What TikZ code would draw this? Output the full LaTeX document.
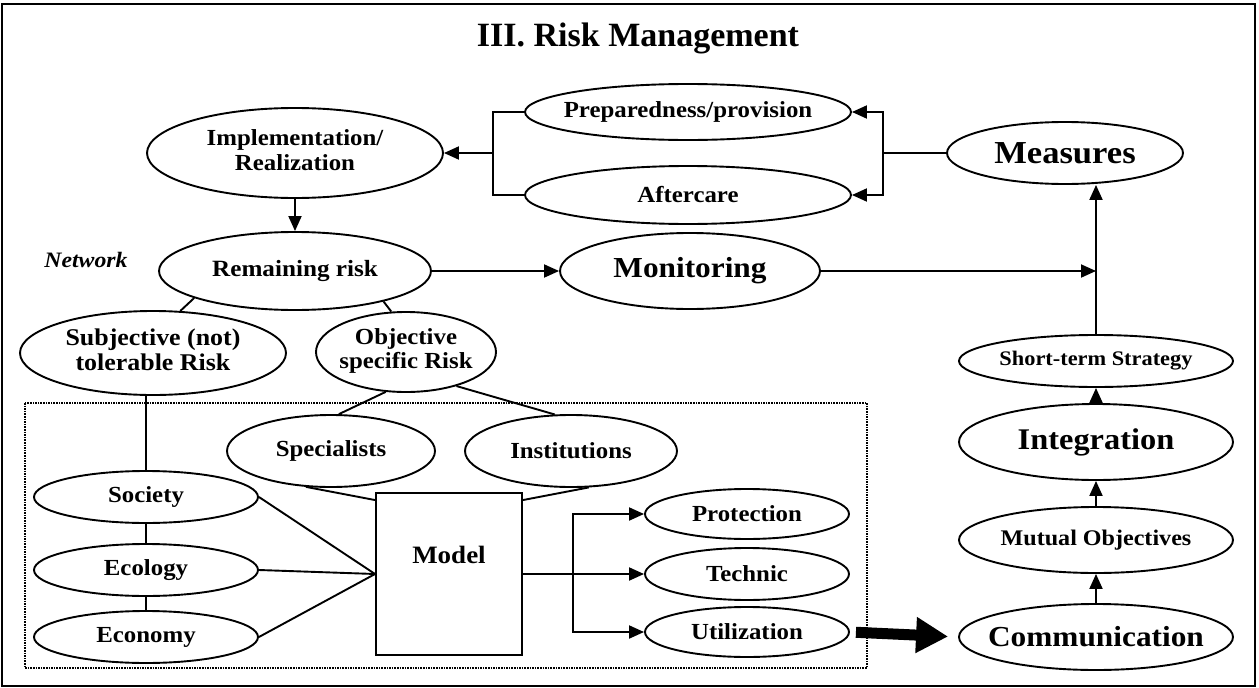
\documentclass[tikz,border=0pt]{standalone}
\usepackage{fontspec}
\setmainfont{Liberation Serif}
\newfontfamily\wide{Liberation Serif}[FakeStretch=1.08]
\usetikzlibrary{shapes.geometric,arrows.meta}
\newcommand\fsz[2]{\fontsize{#1}{#2}\selectfont}
\newcommand\zb[1]{\makebox[0pt]{#1}}
\newcommand\zt[2]{\makebox[0pt]{\begin{tabular}{@{}c@{}}#1\\#2\end{tabular}}}
\begin{document}
\begin{tikzpicture}[x=1pt,y=-1pt,
  ell/.style={draw,ellipse,line width=1.9pt,inner sep=0pt},
  sm/.style={font=\wide\bfseries\fsz{23}{24}},
  big/.style={font=\wide\bfseries\fsz{29}{31}},
  arr/.style={line width=1.9pt,-{Triangle[length=15pt,width=13pt]}},
  ln/.style={line width=1.9pt},
  thick arrow/.style={line width=11pt,-{Triangle[length=32pt,width=34pt]}},
]
\useasboundingbox (0,0) rectangle (1259,688);
\draw[line width=2.8pt] (2,4) rectangle (1255,686);
\draw[line width=1.6pt,densely dotted] (25,403) rectangle (867,668);

\node[font=\bfseries\fsz{34}{36}] (title) at (638,38) {III. Risk Management};

\node[ell,sm,minimum width=326pt,minimum height=56pt] (prep) at (688,112) {\zb{Preparedness/provision}};
\node[ell,sm,minimum width=326pt,minimum height=58pt] (after) at (688,195) {\zb{Aftercare}};
\node[ell,font=\wide\bfseries\fsz{23}{25},minimum width=296pt,minimum height=90pt] (impl) at (295,153) {\zt{Implementation/}{Realization}};
\node[ell,font=\wide\bfseries\fsz{32}{34},minimum width=236pt,minimum height=62pt] (meas) at (1065,153) {\zb{Measures}};

\node[font=\wide\bfseries\itshape\fsz{22}{23}] (net) at (86,260) {Network};
\node[ell,font=\wide\bfseries\fsz{23.3}{25},minimum width=272pt,minimum height=78pt] (rem) at (295,271) {\zb{Remaining risk}};
\node[ell,big,minimum width=260pt,minimum height=76pt] (mon) at (690,271) {\zb{Monitoring}};

\node[ell,font=\wide\bfseries\fsz{24}{25},minimum width=266pt,minimum height=84pt] (subj) at (153,353) {\zt{Subjective (not)}{tolerable Risk}};
\node[ell,font=\wide\bfseries\fsz{23}{24},minimum width=180pt,minimum height=80pt] (obj) at (406,352) {\zt{Objective}{specific Risk}};
\node[ell,font=\wide\bfseries\fsz{20.7}{22},minimum width=274pt,minimum height=52pt] (short) at (1096,361) {\zb{Short-term Strategy}};

\node[ell,sm,minimum width=208pt,minimum height=72pt] (spec) at (331,451) {\zb{Specialists}};
\node[ell,sm,minimum width=212pt,minimum height=72pt] (inst) at (571,451) {\zb{Institutions}};
\node[ell,font=\wide\bfseries\fsz{30}{32},minimum width=274pt,minimum height=76pt] (integ) at (1096,442) {\zb{Integration}};

\node[ell,sm,minimum width=224pt,minimum height=52pt] (soc) at (146,497) {\zb{Society}};
\node[ell,sm,minimum width=224pt,minimum height=52pt] (eco) at (146,570) {\zb{Ecology}};
\node[ell,sm,minimum width=224pt,minimum height=52pt] (econ) at (146,637) {\zb{Economy}};

\node[draw,line width=1.9pt,minimum width=146pt,minimum height=162pt,inner sep=0pt] (model) at (449,574) {};
\node[font=\wide\bfseries\fsz{25}{27}] (modeltxt) at (449,555) {Model};

\node[ell,sm,minimum width=204pt,minimum height=50pt] (prot) at (747,514) {\zb{Protection}};
\node[ell,sm,minimum width=204pt,minimum height=52pt] (tech) at (747,574) {\zb{Technic}};
\node[ell,sm,minimum width=204pt,minimum height=50pt] (util) at (747,632) {\zb{Utilization}};

\node[ell,font=\wide\bfseries\fsz{22.3}{24},minimum width=274pt,minimum height=66pt] (mutual) at (1096,540) {\zb{Mutual Objectives}};
\node[ell,big,minimum width=274pt,minimum height=66pt] (comm) at (1096,637) {\zb{Communication}};

% bracket left of preparedness / aftercare
\coordinate (bl) at (493,153);
\draw[ln] (prep.west) -| (bl) |- (after.west);
\draw[arr] (bl) -- (impl.east);
% bracket right
\coordinate (br) at (883,153);
\draw[ln] (meas.west) -- (br);
\draw[arr] (br) |- (prep.east);
\draw[arr] (br) |- (after.east);

\draw[arr] (impl.south) -- (rem.north);
\draw[arr] (rem.east) -- (mon.west);
\coordinate (jn) at (1096,271);
\draw[arr] (mon.east) -- (jn);
\draw[arr] (short.north) -- (short.north |- meas.south);

\draw[ln] (rem.195) -- (subj.57);
\draw[ln] (rem.341) -- (obj.110);
\draw[ln] (subj.south -| soc.north) -- (soc.north);
\draw[ln] (soc.south) -- (eco.north);
\draw[ln] (eco.south) -- (econ.north);

\draw[ln] (obj.243) -- (spec.78);
\draw[ln] (obj.326) -- (inst.114);
\draw[ln] (spec.235) -- ([yshift=-8pt]model.north west);
\draw[ln] (inst.296) -- ([yshift=-8pt]model.north east);

\draw[ln] (soc.east) -- (model.west);
\draw[ln] (eco.east) -- (model.west);
\draw[ln] (econ.east) -- (model.west);

\coordinate (mb) at (573,574);
\draw[arr] (model.east) -- (tech.west);
\draw[arr] (mb) |- (prot.west);
\draw[arr] (mb) |- (util.west);

\draw[thick arrow,shorten <=6pt,shorten >=10pt] (util.east) -- (comm.west);

\draw[arr] (comm.north) -- (mutual.south);
\draw[arr] (mutual.north) -- (integ.south);
\draw[arr] (integ.north) -- (short.south);
\end{tikzpicture}
\end{document}
